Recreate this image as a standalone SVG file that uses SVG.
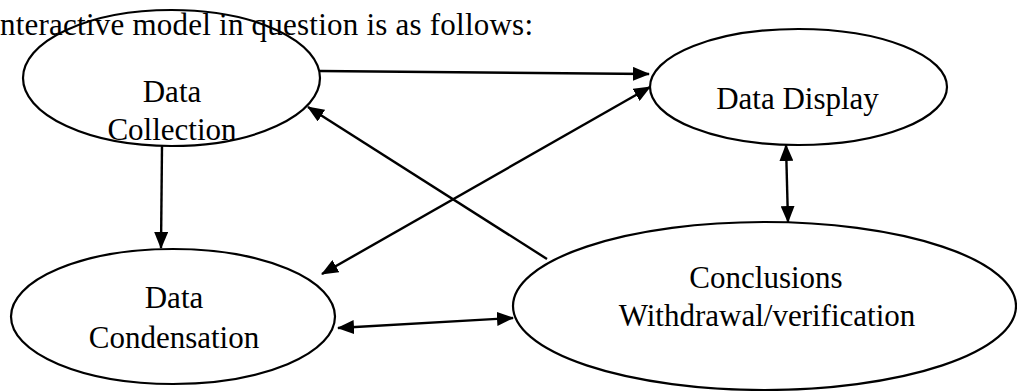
<svg xmlns="http://www.w3.org/2000/svg" width="1017" height="391" viewBox="0 0 1017 391">
<style>
  .t { font-family: "Liberation Serif", "Times New Roman", serif; font-size: 31px; fill: #000; }
  .c { text-anchor: middle; }
  .node ellipse { fill: none; stroke: #000; stroke-width: 2.2; }
  #connectors line { stroke: #000; stroke-width: 2.4; fill: none; }
</style>
<defs>
  <marker id="ah" markerUnits="userSpaceOnUse" markerWidth="17" markerHeight="14" refX="16" refY="7" orient="auto-start-reverse">
    <path d="M0,0 L17,7 L0,14 z" fill="#000"/>
  </marker>
</defs>
<rect width="1017" height="391" fill="#fff"/>
<text class="t" x="0" y="35" textLength="533" lengthAdjust="spacing">nteractive model in question is as follows:</text>
<g id="data-collection" class="node">
  <ellipse cx="171.5" cy="78" rx="148.5" ry="68"/>
  <text class="t c" x="172" y="102">Data</text>
  <text class="t c" x="172" y="140">Collection</text>
</g>
<g id="data-display" class="node">
  <ellipse cx="798.5" cy="87" rx="148.5" ry="58"/>
  <text class="t c" x="797.5" y="109">Data Display</text>
</g>
<g id="data-condensation" class="node">
  <ellipse cx="173" cy="316.5" rx="162" ry="67.5"/>
  <text class="t c" x="174" y="308">Data</text>
  <text class="t c" x="174" y="348">Condensation</text>
</g>
<g id="conclusions" class="node">
  <ellipse cx="764.5" cy="306" rx="251.5" ry="84"/>
  <text class="t c" x="766" y="288">Conclusions</text>
  <text class="t c" x="767" y="326">Withdrawal/verification</text>
</g>
<g id="connectors">
  <line x1="320" y1="71" x2="649" y2="74" marker-end="url(#ah)"/>
  <line x1="162" y1="146" x2="161" y2="248" marker-end="url(#ah)"/>
  <line x1="547" y1="259" x2="308" y2="107" marker-end="url(#ah)"/>
  <line x1="322" y1="274" x2="650" y2="87" marker-start="url(#ah)" marker-end="url(#ah)"/>
  <line x1="786" y1="145" x2="788" y2="222" marker-start="url(#ah)" marker-end="url(#ah)"/>
  <line x1="338" y1="328" x2="513" y2="318" marker-start="url(#ah)" marker-end="url(#ah)"/>
</g>
</svg>
